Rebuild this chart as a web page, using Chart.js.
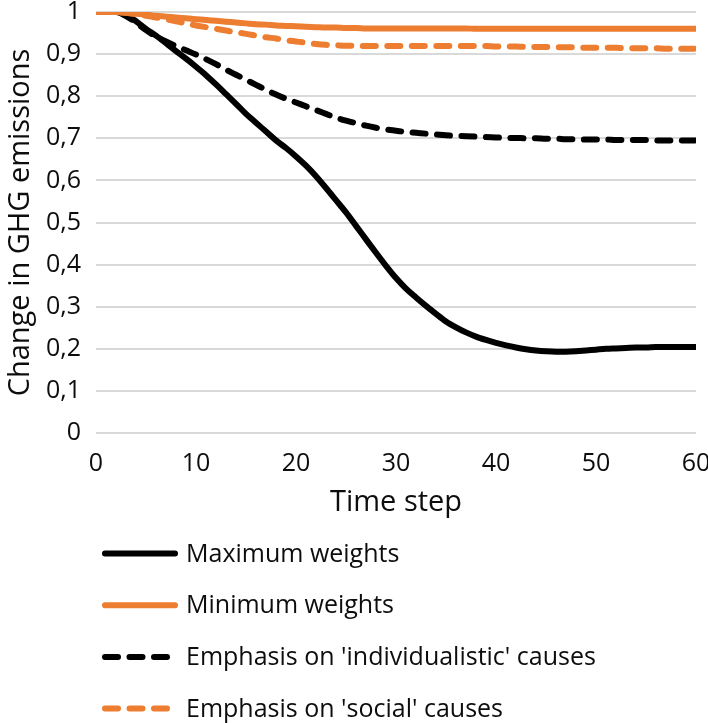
<!DOCTYPE html>
<html>
<head>
<meta charset="utf-8">
<script src="https://cdn.jsdelivr.net/npm/chart.js@4/dist/chart.umd.min.js"></script>
<style>
  html, body { margin: 0; padding: 0; background: #fff; }
  #wrap { width: 708px; height: 723px; }
</style>
</head>
<body>
<div id="wrap"><canvas id="c" width="708" height="723"></canvas></div>
<script>
// ---- data ----
const timeSteps = Array.from({length: 61}, (_, i) => i);

const maximumWeights = [
  1, 1, 1, 0.993, 0.978, 0.96, 0.944, 0.926, 0.907, 0.889,
  0.87, 0.85, 0.828, 0.805, 0.782, 0.758, 0.737, 0.716, 0.695, 0.677,
  0.657, 0.635, 0.61, 0.582, 0.553, 0.524, 0.492, 0.46, 0.428, 0.397,
  0.368, 0.343, 0.322, 0.302, 0.283, 0.265, 0.251, 0.239, 0.229, 0.221,
  0.214, 0.208, 0.203, 0.199, 0.196, 0.194, 0.193, 0.193, 0.194, 0.196,
  0.198, 0.2, 0.201, 0.202, 0.203, 0.203, 0.204, 0.204, 0.204, 0.204, 0.204
];

const minimumWeights = [
  1, 1, 1, 0.998, 0.996, 0.994, 0.991, 0.989, 0.987, 0.985,
  0.983, 0.981, 0.979, 0.977, 0.975, 0.973, 0.971, 0.97, 0.968, 0.967,
  0.966, 0.965, 0.964, 0.963, 0.963, 0.962, 0.962, 0.961, 0.961, 0.961,
  0.961, 0.961, 0.961, 0.961, 0.961, 0.961, 0.961, 0.961, 0.96, 0.96,
  0.96, 0.96, 0.96, 0.96, 0.96, 0.96, 0.96, 0.96, 0.96, 0.96,
  0.96, 0.96, 0.96, 0.96, 0.96, 0.96, 0.96, 0.96, 0.96, 0.96, 0.96
];

const individualisticEmphasis = [
  1, 1, 1, 0.99, 0.975, 0.957, 0.942, 0.93, 0.919, 0.909,
  0.899, 0.888, 0.876, 0.863, 0.851, 0.839, 0.827, 0.815, 0.804, 0.794,
  0.785, 0.776, 0.767, 0.758, 0.749, 0.742, 0.736, 0.73, 0.725, 0.721,
  0.718, 0.715, 0.713, 0.711, 0.709, 0.707, 0.706, 0.705, 0.704, 0.703,
  0.702, 0.701, 0.701, 0.7, 0.7, 0.699, 0.699, 0.698, 0.698, 0.697,
  0.697, 0.697, 0.696, 0.696, 0.696, 0.696, 0.695, 0.695, 0.695, 0.695, 0.695
];

const socialEmphasis = [
  1, 1, 1, 0.998, 0.995, 0.991, 0.987, 0.983, 0.978, 0.973,
  0.968, 0.964, 0.96, 0.956, 0.952, 0.948, 0.944, 0.94, 0.937, 0.933,
  0.93, 0.927, 0.924, 0.922, 0.921, 0.92, 0.92, 0.919, 0.919, 0.919,
  0.919, 0.919, 0.919, 0.919, 0.919, 0.919, 0.919, 0.919, 0.919, 0.919,
  0.918, 0.918, 0.918, 0.917, 0.917, 0.917, 0.916, 0.916, 0.916, 0.915,
  0.915, 0.915, 0.915, 0.914, 0.914, 0.914, 0.914, 0.913, 0.913, 0.913, 0.913
];

const seriesNames = [
  "Maximum weights",
  "Minimum weights",
  "Emphasis on 'individualistic' causes",
  "Emphasis on 'social' causes"
];
const xTitle = "Time step";
const yTitle = "Change in GHG emissions";

// ---- styles ----
const BLACK = '#000000';
const ORANGE = '#ED7D31';
const TEXT = '#0d0d0d';
const FONT = "'Open Sans', 'Noto Sans', sans-serif";
const DASH = [13, 11.5];

function series(label, values, color, dashed, order) {
  return {
    label: label,
    data: timeSteps.map((t, i) => ({x: t, y: values[i]})),
    borderColor: color,
    backgroundColor: color,
    borderWidth: 6,
    borderDash: dashed ? DASH : [],
    borderCapStyle: 'round',
    borderJoinStyle: 'round',
    pointRadius: 0,
    fill: false,
    cubicInterpolationMode: 'monotone',
    order: order
  };
}

const legendPlugin = {
  id: 'verticalLegend',
  afterDraw(chart) {
    const ctx = chart.ctx;
    const xs = chart.scales.x;
    const top = xs.bottom + 33.5;
    const gap = 51.7;
    const lineX0 = 105, solidEnd = 175, dashEnd = 167, textX = 186;
    ctx.save();
    ctx.font = "25px " + FONT;
    ctx.textBaseline = 'middle';
    ctx.textAlign = 'left';
    chart.data.datasets.forEach((ds, i) => {
      const y = top + i * gap;
      const dashed = ds.borderDash && ds.borderDash.length;
      ctx.beginPath();
      ctx.lineWidth = ds.borderWidth;
      ctx.strokeStyle = ds.borderColor;
      ctx.lineCap = 'round';
      ctx.setLineDash(dashed ? ds.borderDash : []);
      ctx.moveTo(lineX0, y);
      ctx.lineTo(dashed ? dashEnd : solidEnd, y);
      ctx.stroke();
      ctx.setLineDash([]);
      ctx.fillStyle = TEXT;
      ctx.fillText(ds.label, textX, y + 1);
    });
    ctx.restore();
  }
};

new Chart(document.getElementById('c'), {
  type: 'line',
  data: {
    datasets: [
      series(seriesNames[0], maximumWeights, BLACK, false, 3),
      series(seriesNames[1], minimumWeights, ORANGE, false, 0),
      series(seriesNames[2], individualisticEmphasis, BLACK, true, 2),
      series(seriesNames[3], socialEmphasis, ORANGE, true, 1)
    ]
  },
  options: {
    responsive: false,
    animation: false,
    devicePixelRatio: 1,
    layout: { padding: { top: 12, right: 12, bottom: 203, left: 0 } },
    plugins: {
      legend: { display: false },
      tooltip: { enabled: false }
    },
    scales: {
      x: {
        type: 'linear',
        min: 0, max: 60,
        ticks: {
          stepSize: 10,
          color: TEXT,
          font: { family: FONT, size: 25, lineHeight: 1 },
          padding: 18,
          maxRotation: 0
        },
        grid: { display: false, drawTicks: false },
        border: { display: false },
        title: {
          display: true,
          text: xTitle,
          color: TEXT,
          font: { family: FONT, size: 29 },
          padding: { top: 0, bottom: 0 }
        },
        afterFit(scale) {
          scale.height = 87;
          scale.paddingLeft = 0;
          scale.paddingRight = 0;
        }
      },
      y: {
        min: 0, max: 1,
        ticks: {
          stepSize: 0.1,
          color: TEXT,
          font: { family: FONT, size: 25, lineHeight: 1 },
          padding: 15,
          callback: (v) => String(Math.round(v * 10) / 10).replace('.', ',')
        },
        grid: { color: '#d9d9d9', lineWidth: 2, drawTicks: false },
        border: { display: false },
        title: {
          display: true,
          text: yTitle,
          color: TEXT,
          font: { family: FONT, size: 29 },
          padding: { top: 3, bottom: 0 }
        },
        afterFit(scale) {
          scale.width = 96;
          scale.paddingTop = 0;
          scale.paddingBottom = 0;
        }
      }
    }
  },
  plugins: [legendPlugin]
});
</script>
</body>
</html>
